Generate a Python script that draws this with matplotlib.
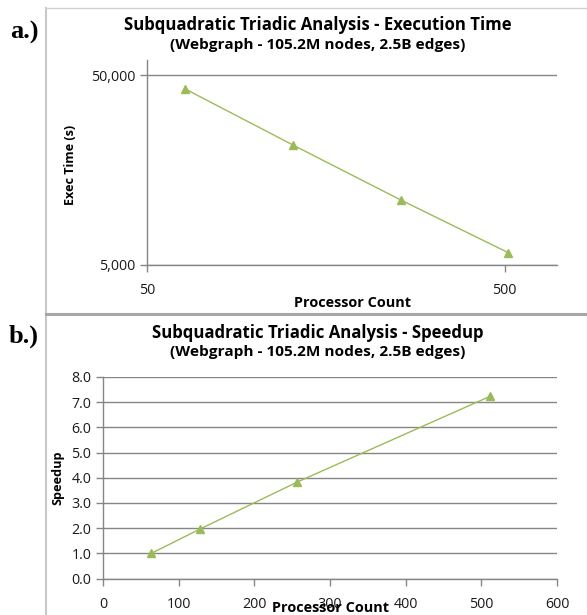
import numpy as np
import matplotlib.pyplot as plt
from matplotlib.ticker import FixedLocator, FixedFormatter, NullLocator, FormatStrFormatter
from matplotlib.lines import Line2D

# data
procs = [64, 128, 256, 512]
exec_time = [42200, 21400, 11000, 5800]
speedup = [1.0, 1.96, 3.82, 7.24]

W, H = 587, 615
GREEN = '#9BBB59'
GRID = '#868686'
FONT = 'Open Sans'
TICK_FS = 10.3

plt.rcParams['font.family'] = [FONT, 'DejaVu Sans']

fig = plt.figure(figsize=(W / 100, H / 100), dpi=100)


def px_axes(left, top, right, bottom):
    return fig.add_axes([left / W, 1 - bottom / H, (right - left) / W, (bottom - top) / H])


def style_axes(ax):
    for s in ['top', 'right']:
        ax.spines[s].set_visible(False)
    for s in ['left', 'bottom']:
        ax.spines[s].set_color(GRID)
        ax.spines[s].set_linewidth(1.0)
    ax.tick_params(direction='out', length=5, width=1, color=GRID,
                   labelsize=TICK_FS, labelcolor='#1a1a1a')
    ax.yaxis.grid(True, color=GRID, linewidth=1.0)
    ax.set_axisbelow(True)


# frame lines around the two chart areas
fig.add_artist(Line2D([46 / W, 46 / W], [0, 1 - 8 / H], transform=fig.transFigure,
                      color='#c8c8c8', lw=1.5))
fig.add_artist(Line2D([46 / W, 1], [1 - 8 / H, 1 - 8 / H], transform=fig.transFigure,
                      color='#d0d0d0', lw=1.0))
fig.add_artist(Line2D([46 / W, 1], [1 - 313.5 / H, 1 - 313.5 / H], transform=fig.transFigure,
                      color='#a6a6a6', lw=2.2))

# ---------------- a.) execution time ----------------
ax1 = px_axes(147, 60, 557, 265)
style_axes(ax1)
ax1.set_xscale('log')
ax1.set_yscale('log')
ax1.plot(procs, exec_time, color=GREEN, lw=1.0, marker='^', ms=6, mec=GREEN, mfc=GREEN)
ax1.set_xlim(50, 700)
ax1.set_ylim(5000, 60000)
ax1.xaxis.set_major_locator(FixedLocator([50, 500]))
ax1.xaxis.set_major_formatter(FixedFormatter(['50', '500']))
ax1.yaxis.set_major_locator(FixedLocator([5000, 50000]))
ax1.yaxis.set_major_formatter(FixedFormatter(['5,000', '50,000']))
ax1.xaxis.set_minor_locator(NullLocator())
ax1.yaxis.set_minor_locator(NullLocator())
ax1.tick_params(axis='x', pad=8)
ax1.set_xlabel('Processor Count', fontsize=10.4, fontweight='bold', va='center')
ax1.xaxis.set_label_coords(0.5, -(303 - 265) / 205)
ax1.set_ylabel('Exec Time (s)', fontsize=9.1, fontweight='bold', va='center')
ax1.yaxis.set_label_coords((71 - 147) / 410, 0.49)

fig.text(318 / W, 1 - 25.5 / H, 'Subquadratic Triadic Analysis - Execution Time',
         ha='center', va='center', fontsize=12.1, fontweight='bold')
fig.text(318 / W, 1 - 45 / H, '(Webgraph - 105.2M nodes, 2.5B edges)',
         ha='center', va='center', fontsize=11.1, fontweight='bold')
fig.text(24 / W, 1 - 32 / H, 'a.)', ha='center', va='center', fontsize=19,
         fontweight='bold', family='Liberation Serif')

# ---------------- b.) speedup ----------------
ax2 = px_axes(103, 377, 557, 578.5)
style_axes(ax2)
ax2.plot(procs, speedup, color=GREEN, lw=1.0, marker='^', ms=6, mec=GREEN, mfc=GREEN)
ax2.set_xlim(0, 600)
ax2.set_ylim(0, 8)
ax2.set_xticks(np.arange(0, 601, 100))
ax2.set_yticks(np.arange(0, 8.1, 1))
ax2.yaxis.set_major_formatter(FormatStrFormatter('%.1f'))
ax2.tick_params(axis='x', pad=8)
ax2.set_xlabel('Processor Count', fontsize=10.4, fontweight='bold', va='center')
ax2.xaxis.set_label_coords(0.5, -(608.5 - 578.5) / 201.5)
ax2.set_ylabel('Speedup', fontsize=9.1, fontweight='bold', va='center')
ax2.yaxis.set_label_coords((58 - 103) / 454, 0.5)

fig.text(318 / W, 1 - 332.5 / H, 'Subquadratic Triadic Analysis - Speedup',
         ha='center', va='center', fontsize=12.1, fontweight='bold')
fig.text(318 / W, 1 - 352 / H, '(Webgraph - 105.2M nodes, 2.5B edges)',
         ha='center', va='center', fontsize=11.1, fontweight='bold')
fig.text(24 / W, 1 - 336 / H, 'b.)', ha='center', va='center', fontsize=19,
         fontweight='bold', family='Liberation Serif')

fig.savefig('out.png', dpi=100)
